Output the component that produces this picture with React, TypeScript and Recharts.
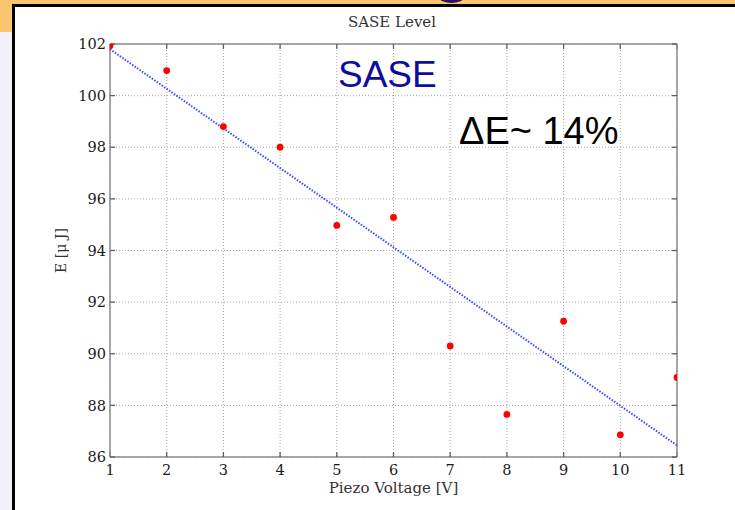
import React from "react";
import { ScatterChart, Scatter, XAxis, YAxis, CartesianGrid } from "recharts";

const voltages = [1, 2, 3, 4, 5, 6, 7, 8, 9, 10, 11];
const energies = [101.93, 100.97, 98.8, 98.0, 94.97, 95.28, 90.3, 87.65, 91.26, 86.86, 89.08];
const fitVoltages = [1, 11];
const fitEnergies = [101.8, 86.45];
const xTicks = [1, 2, 3, 4, 5, 6, 7, 8, 9, 10, 11];
const yTicks = [86, 88, 90, 92, 94, 96, 98, 100, 102];

const title = "SASE Level";
const xLabel = "Piezo Voltage [V]";
const yLabel = "E [\u03bc J]";
const noteSase = "SASE";
const noteDelta = "\u0394E~ 14%";

const points = voltages.map((v, i) => ({ x: v, y: energies[i] }));
const fit = fitVoltages.map((v, i) => ({ x: v, y: fitEnergies[i] }));

const SERIF = "'DejaVu Serif', serif";
const SANS = "'Liberation Sans', Arial, sans-serif";
const BOX = "#8c8c8c";
const TICK = "#5e5e5e";

const RedDot = (props: any) => {
  const { cx, cy } = props;
  if (cx == null || cy == null) return <g />;
  return <circle cx={cx} cy={cy} r={3.4} fill="#ff0000" />;
};

const NoShape = () => <g />;
const NoTick = () => <g />;

export default function App() {
  return (
    <div
      style={{
        position: "absolute",
        left: 0,
        top: 0,
        width: 735,
        height: 510,
        overflow: "hidden",
        background: "#f1f1f7",
      }}
    >
      <div style={{ position: "absolute", left: 0, top: 0, width: 735, height: 5, background: "#fbc46e" }} />
      <div style={{ position: "absolute", left: 0, top: 0, width: 14, height: 32, background: "#fbc46e" }} />
      <div
        style={{
          position: "absolute",
          left: 439,
          top: -9,
          width: 25,
          height: 12,
          borderRadius: "50%",
          background: "#2b1160",
        }}
      />
      <div
        style={{
          position: "absolute",
          left: 12,
          top: 4,
          width: 800,
          height: 600,
          borderLeft: "3px solid #000",
          borderTop: "3px solid #000",
          background: "#ffffff",
        }}
      />
      <div style={{ position: "absolute", left: 0, top: 0 }}>
        <ScatterChart width={735} height={510} margin={{ top: 44, right: 58, bottom: 13, left: 60 }}>
          <CartesianGrid stroke="#a8a8a8" strokeDasharray="1 2" strokeWidth={1} />
          <XAxis
            type="number"
            dataKey="x"
            domain={[1, 11]}
            ticks={xTicks}
            allowDataOverflow
            height={40}
            axisLine={{ stroke: BOX, strokeWidth: 1.5 }}
            tickLine={false}
            tickSize={6}
            tickMargin={2}
            tick={{ fill: "#1a1a1a", fontSize: 14.5, fontFamily: SERIF }}
            label={{
              value: xLabel,
              position: "insideBottom",
              offset: 4,
              fill: "#333",
              fontSize: 15,
              fontFamily: SERIF,
            }}
          />
          <XAxis
            xAxisId="t"
            type="number"
            dataKey="x"
            orientation="top"
            mirror
            domain={[1, 11]}
            ticks={xTicks}
            allowDataOverflow
            axisLine={{ stroke: BOX, strokeWidth: 1.5 }}
            tickLine={{ stroke: TICK, strokeWidth: 1.3 }}
            tickSize={5}
            tick={NoTick}
          />
          <XAxis
            xAxisId="b2"
            type="number"
            dataKey="x"
            orientation="bottom"
            mirror
            domain={[1, 11]}
            ticks={xTicks}
            allowDataOverflow
            axisLine={false}
            tickLine={{ stroke: TICK, strokeWidth: 1.3 }}
            tickSize={5}
            tick={NoTick}
          />
          <YAxis
            type="number"
            dataKey="y"
            domain={[86, 102]}
            ticks={yTicks}
            allowDataOverflow
            width={50}
            axisLine={{ stroke: BOX, strokeWidth: 1.5 }}
            tickLine={false}
            tickSize={3}
            tickMargin={1}
            tick={{ fill: "#1a1a1a", fontSize: 14.5, fontFamily: SERIF }}
            label={{
              value: yLabel,
              angle: -90,
              position: "center",
              dx: -24,
              fill: "#333",
              fontSize: 14,
              fontFamily: SERIF,
            }}
          />
          <YAxis
            yAxisId="l2"
            type="number"
            dataKey="y"
            orientation="left"
            mirror
            domain={[86, 102]}
            ticks={yTicks}
            allowDataOverflow
            axisLine={false}
            tickLine={{ stroke: TICK, strokeWidth: 1.3 }}
            tickSize={5}
            tick={NoTick}
          />
          <YAxis
            yAxisId="r"
            type="number"
            dataKey="y"
            orientation="right"
            mirror
            domain={[86, 102]}
            ticks={yTicks}
            allowDataOverflow
            axisLine={{ stroke: BOX, strokeWidth: 1.5 }}
            tickLine={{ stroke: TICK, strokeWidth: 1.3 }}
            tickSize={5}
            tick={NoTick}
          />
          <Scatter
            data={fit}
            line={{ stroke: "#3a4bff", strokeWidth: 2, strokeDasharray: "1.5 1.5" }}
            shape={NoShape}
            legendType="none"
            isAnimationActive={false}
          />
          <Scatter data={points} shape={RedDot} isAnimationActive={false} />
        </ScatterChart>
      </div>
      <svg
        width={735}
        height={510}
        style={{ position: "absolute", left: 0, top: 0, pointerEvents: "none" }}
      >
        <text x={392} y={27} textAnchor="middle" fontFamily={SERIF} fontSize={15} fill="#333">
          {title}
        </text>
        <text x={338} y={87} fontFamily={SANS} fontSize={37} fill="#0d0d9e">
          {noteSase}
        </text>
        <text x={459} y={144} fontFamily={SANS} fontSize={38} fill="#000">
          {noteDelta}
        </text>
      </svg>
    </div>
  );
}
